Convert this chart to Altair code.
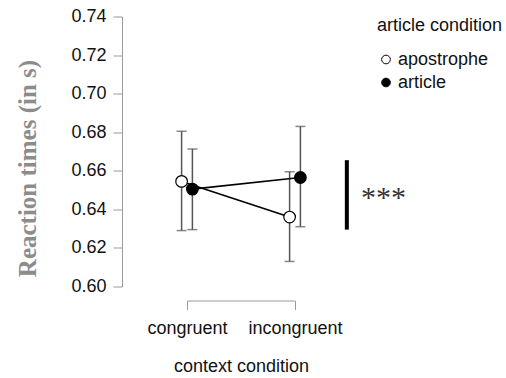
import altair as alt
import pandas as pd

# ---- data ----
context = ["congruent", "incongruent"]
groups = ["apostrophe", "article"]

apostrophe_mean = [0.6545, 0.6360]
apostrophe_lo = [0.6290, 0.6130]
apostrophe_hi = [0.6805, 0.6595]

article_mean = [0.6505, 0.6565]
article_lo = [0.6295, 0.6310]
article_hi = [0.6713, 0.6830]

y_ticks = [0.60, 0.62, 0.64, 0.66, 0.68, 0.70, 0.72, 0.74]

sig_x = [2.48]
sig_lo = [0.6295]
sig_hi = [0.6655]
sig_text_x = [2.61]
sig_text_y = [0.6475]
sig_label = ["***"]

rows = []
for g, m, lo, hi in [("apostrophe", apostrophe_mean, apostrophe_lo, apostrophe_hi),
                     ("article", article_mean, article_lo, article_hi)]:
    for i, c in enumerate(context):
        rows.append({"ci": i + 1, "context": c, "group": g,
                     "mean": m[i], "lo": lo[i], "hi": hi[i]})
df = pd.DataFrame(rows)

sig_df = pd.DataFrame({"sx": sig_x, "slo": sig_lo, "shi": sig_hi})
sig_txt = pd.DataFrame({"tx": sig_text_x, "ty": sig_text_y, "label": sig_label})

SANS = "Liberation Sans"
SERIF = "Liberation Serif"
XT = "context condition"
YT = "Reaction times (in s)"

x_scale = alt.Scale(domain=[1, 2], nice=False, zero=False)
y_scale = alt.Scale(domain=[0.60, 0.74], nice=False, zero=False)

label_expr = "datum.value == 1 ? '%s' : '%s'" % (context[0], context[1])
x_axis = alt.Axis(values=[1, 2], labelExpr=label_expr, offset=14, tickSize=9,
                  domainColor="#9a9a9a", tickColor="#9a9a9a", grid=False,
                  labelFont=SANS, labelFontSize=18, labelColor="#111",
                  labelPadding=10, labelAngle=0, labelFlush=False,
                  labelOverlap=False, labelBound=False,
                  title=XT, titleFont=SANS, titleFontSize=18,
                  titleFontWeight="normal", titleColor="#111",
                  titleY=66, titleBaseline="middle")
y_axis = alt.Axis(values=y_ticks, format=".2f", offset=65, tickSize=9,
                  domainColor="#9a9a9a", tickColor="#9a9a9a", grid=False,
                  labelFont=SANS, labelFontSize=18, labelColor="#111",
                  labelPadding=7,
                  title=YT, titleFont=SERIF, titleFontSize=25,
                  titleFontWeight="bold", titleColor="#8c8c8c",
                  titleX=-95, titleY=151.5, titleAngle=270,
                  titleAlign="center", titleBaseline="middle")

base = alt.Chart(df).transform_calculate(
    xpos="datum.ci + (datum.group == 'apostrophe' ? -0.05 : 0.05)"
)

X = alt.X("xpos:Q", scale=x_scale, axis=x_axis, title=XT)

err = base.mark_rule(color="#555555", strokeWidth=1.5).encode(
    x=X,
    y=alt.Y("lo:Q", scale=y_scale, axis=y_axis, title=YT),
    y2="hi:Q",
)
cap_lo = base.mark_tick(color="#555555", orient="horizontal", size=10, thickness=1.5).encode(
    x=X, y=alt.Y("lo:Q", scale=y_scale, axis=y_axis, title=YT)
)
cap_hi = base.mark_tick(color="#555555", orient="horizontal", size=10, thickness=1.5).encode(
    x=X, y=alt.Y("hi:Q", scale=y_scale, axis=y_axis, title=YT)
)
lines = base.mark_line(color="black", strokeWidth=1.6).encode(
    x=X, y=alt.Y("mean:Q", scale=y_scale, axis=y_axis, title=YT),
    detail="group:N", order="ci:Q",
)
points = base.mark_point(filled=True, shape="circle", size=135, stroke="black",
                         strokeWidth=1.2, opacity=1).encode(
    x=X, y=alt.Y("mean:Q", scale=y_scale, axis=y_axis, title=YT),
    fill=alt.Fill("group:N", scale=alt.Scale(domain=groups, range=["white", "black"]),
                  legend=alt.Legend(title="article condition", orient="none",
                                    legendX=190, legendY=0,
                                    titleFont=SANS, titleFontSize=18,
                                    titleFontWeight="normal", titleColor="#111",
                                    titlePadding=16,
                                    labelFont=SANS, labelFontSize=18, labelColor="#111",
                                    labelOffset=3, rowPadding=5,
                                    symbolType="circle", symbolSize=75,
                                    symbolStrokeColor="black", symbolStrokeWidth=1)),
)

sig_rule = alt.Chart(sig_df).mark_rule(color="black", strokeWidth=4).encode(
    x=alt.X("sx:Q", scale=x_scale, axis=x_axis, title=XT),
    y=alt.Y("slo:Q", scale=y_scale, axis=y_axis, title=YT),
    y2="shi:Q",
)
sig_text = alt.Chart(sig_txt).mark_text(font=SERIF, fontSize=30, color="#333333",
                                        align="left", baseline="middle", dy=3).encode(
    x=alt.X("tx:Q", scale=x_scale, axis=x_axis, title=XT),
    y=alt.Y("ty:Q", scale=y_scale, axis=y_axis, title=YT),
    text="label:N",
)

chart = alt.layer(err, cap_lo, cap_hi, lines, points, sig_rule, sig_text).properties(
    width=108, height=270,
    autosize=alt.AutoSizeParams(type="none"),
    padding={"left": 187, "top": 16.5, "right": 211, "bottom": 91.5},
    background="white",
).configure_view(stroke=None)

chart.save("out.html", embed_options={"renderer": "svg", "actions": False})
